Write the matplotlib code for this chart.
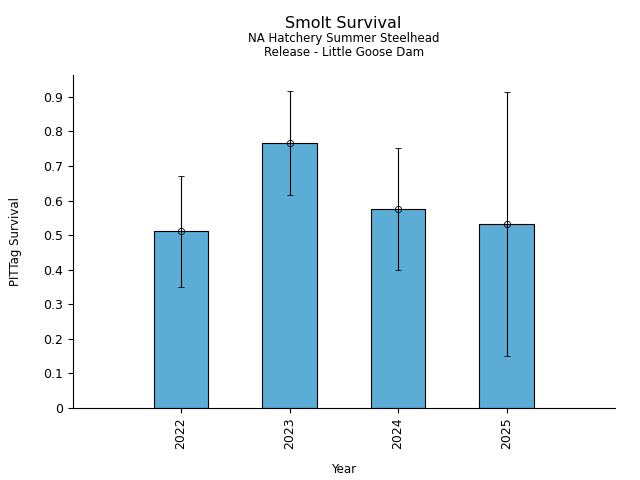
import matplotlib
matplotlib.use('Agg')
import matplotlib.pyplot as plt
import numpy as np

years = ['2022', '2023', '2024', '2025']
survival = [0.511, 0.766, 0.575, 0.531]
lower = [0.349, 0.615, 0.398, 0.150]
upper = [0.670, 0.916, 0.751, 0.913]

x = np.arange(len(years))
err = [np.array(survival) - np.array(lower), np.array(upper) - np.array(survival)]

fig, ax = plt.subplots(figsize=(6.4, 4.8), dpi=100)
ax.bar(x, survival, width=0.5, color='#5badd6', edgecolor='black', linewidth=0.8)
ax.errorbar(x, survival, yerr=err, fmt='o', mfc='none', mec='black', ms=4.5,
            mew=0.6, ecolor='black', elinewidth=0.8, capsize=2.5, capthick=0.8)

ax.set_xticks(x)
ax.set_xticklabels(years, rotation=90)
ax.set_xlim(-1, 4)
ax.set_ylim(0, 0.9635)
ax.set_yticks(np.arange(0, 1.0, 0.1))
ax.set_yticklabels(['0'] + ['%.1f' % v for v in np.arange(0.1, 1.0, 0.1)])
ax.set_xlabel('Year', fontsize=8.5, labelpad=10)
ax.set_ylabel('PITTag Survival', fontsize=8.5, labelpad=15)
ax.tick_params(labelsize=9)
ax.spines['top'].set_visible(False)
ax.spines['right'].set_visible(False)

fig.text(0.537, 0.952, 'Smolt Survival', ha='center', va='center', fontsize=11.5)
fig.text(0.537, 0.920, 'NA Hatchery Summer Steelhead', ha='center', va='center', fontsize=8.5)
fig.text(0.537, 0.890, 'Release - Little Goose Dam', ha='center', va='center', fontsize=8.5)

fig.subplots_adjust(left=0.1135, right=0.961, bottom=0.15, top=0.844)
fig.savefig('out.png')
